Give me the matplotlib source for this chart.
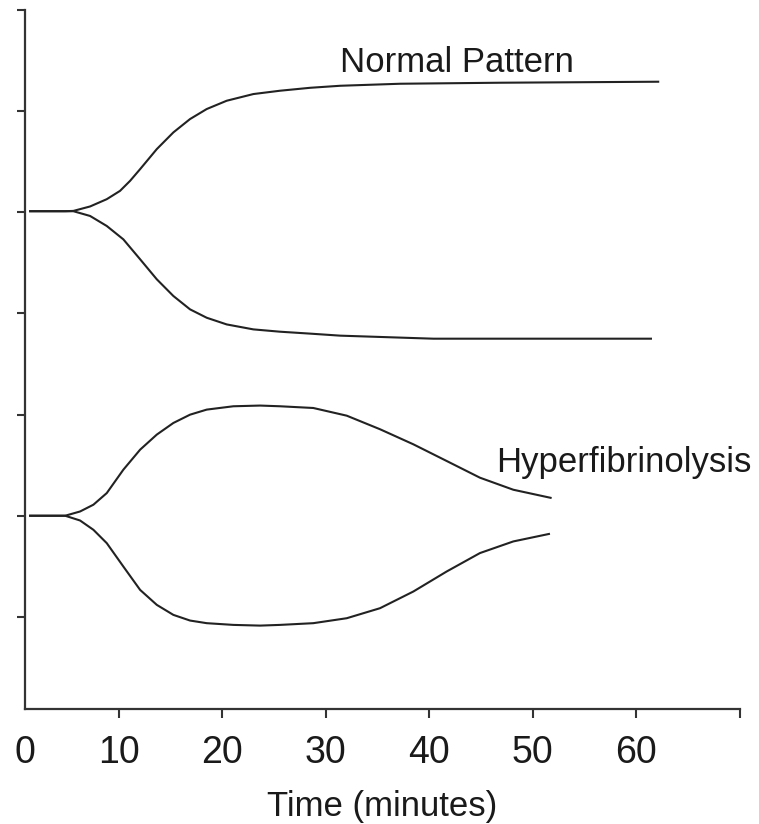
import matplotlib.pyplot as plt

plt.rcParams['font.family'] = ['Liberation Sans', 'DejaVu Sans']

# time (minutes) and trace amplitude
t_norm_up = [1.36, 4.84, 5.64, 7.25, 8.86, 10.14, 11.11, 12.08, 13.69, 15.29,
             16.90, 18.51, 20.44, 23.01, 25.59, 28.5, 31.4, 37.2, 46.8, 62.2]
v_norm_up = [3.01, 3.01, 3.013, 3.057, 3.129, 3.211, 3.310, 3.426, 3.624, 3.789,
             3.921, 4.020, 4.102, 4.168, 4.201, 4.23, 4.25, 4.27, 4.28, 4.29]

t_norm_lo = [1.36, 4.84, 5.64, 7.25, 8.86, 10.46, 12.08, 13.69, 15.29, 16.90,
             18.51, 20.44, 23.01, 25.59, 28.5, 31.4, 40.4, 61.5]
v_norm_lo = [3.01, 3.01, 3.01, 2.963, 2.864, 2.732, 2.535, 2.337, 2.172, 2.040,
             1.957, 1.891, 1.842, 1.819, 1.80, 1.78, 1.75, 1.75]

t_hyp_up = [1.36, 4.84, 6.28, 7.57, 8.86, 10.46, 12.08, 13.69, 15.29, 16.90,
            18.51, 21.08, 23.66, 25.59, 28.80, 32.03, 35.24, 38.46, 41.68,
            44.89, 48.11, 51.81]
v_hyp_up = [0, 0, 0.042, 0.109, 0.224, 0.455, 0.653, 0.802, 0.917, 0.999,
            1.049, 1.082, 1.089, 1.082, 1.065, 0.989, 0.855, 0.706, 0.541,
            0.376, 0.257, 0.175]

t_hyp_lo = [1.36, 4.84, 6.28, 7.57, 8.86, 10.46, 12.08, 13.69, 15.29, 16.90,
            18.51, 21.08, 23.66, 25.59, 28.80, 32.03, 35.24, 38.46, 41.68,
            44.89, 48.11, 51.65]
v_hyp_lo = [0, 0, -0.047, -0.139, -0.271, -0.502, -0.733, -0.881, -0.980, -1.036,
            -1.062, -1.079, -1.086, -1.079, -1.062, -1.013, -0.914, -0.749, -0.551,
            -0.369, -0.254, -0.178]

xticks = [10, 20, 30, 40, 50, 60, 70]
xticklabels = ["10", "20", "30", "40", "50", "60", ""]
yticks = [-1, 0, 1, 2, 3, 4, 5]

fig = plt.figure(figsize=(7.59, 8.24), dpi=100)
ax = fig.add_axes([0.033, 0.1396, 0.942, 0.8484])

col = "#222222"
for t, v in [(t_norm_up, v_norm_up), (t_norm_lo, v_norm_lo),
             (t_hyp_up, v_hyp_up), (t_hyp_lo, v_hyp_lo)]:
    ax.plot(t, v, color=col, lw=1.5, solid_capstyle='butt', solid_joinstyle='round')

ax.text(31.4, 4.39, "Normal Pattern", fontsize=25, color="#1a1a1a",
        ha="left", va="baseline")
ax.text(46.5, 0.43, "Hyperfibrinolysis", fontsize=25, color="#1a1a1a",
        ha="left", va="baseline", clip_on=False)

ax.set_xlim(0.97, 70)
ax.set_ylim(-1.91, 5.0)
ax.set_xticks(xticks, xticklabels)
ax.set_xticks([0.97], ["0"], minor=True)
ax.set_yticks(yticks, [])

for s in ["top", "right"]:
    ax.spines[s].set_visible(False)
for s in ["left", "bottom"]:
    ax.spines[s].set_linewidth(1.6)
    ax.spines[s].set_color("#333333")

ax.tick_params(axis="x", which="major", direction="out", length=6.5, width=1.5,
               color="#333333", labelsize=27, pad=12, labelcolor="#1a1a1a")
ax.tick_params(axis="x", which="minor", length=0, labelsize=27, pad=18.5,
               labelcolor="#1a1a1a")
ax.tick_params(axis="y", direction="out", length=6, width=1.5, color="#333333")

ax.set_xlabel("Time (minutes)", fontsize=25, color="#1a1a1a", labelpad=14)

plt.savefig("out.png", dpi=100)
